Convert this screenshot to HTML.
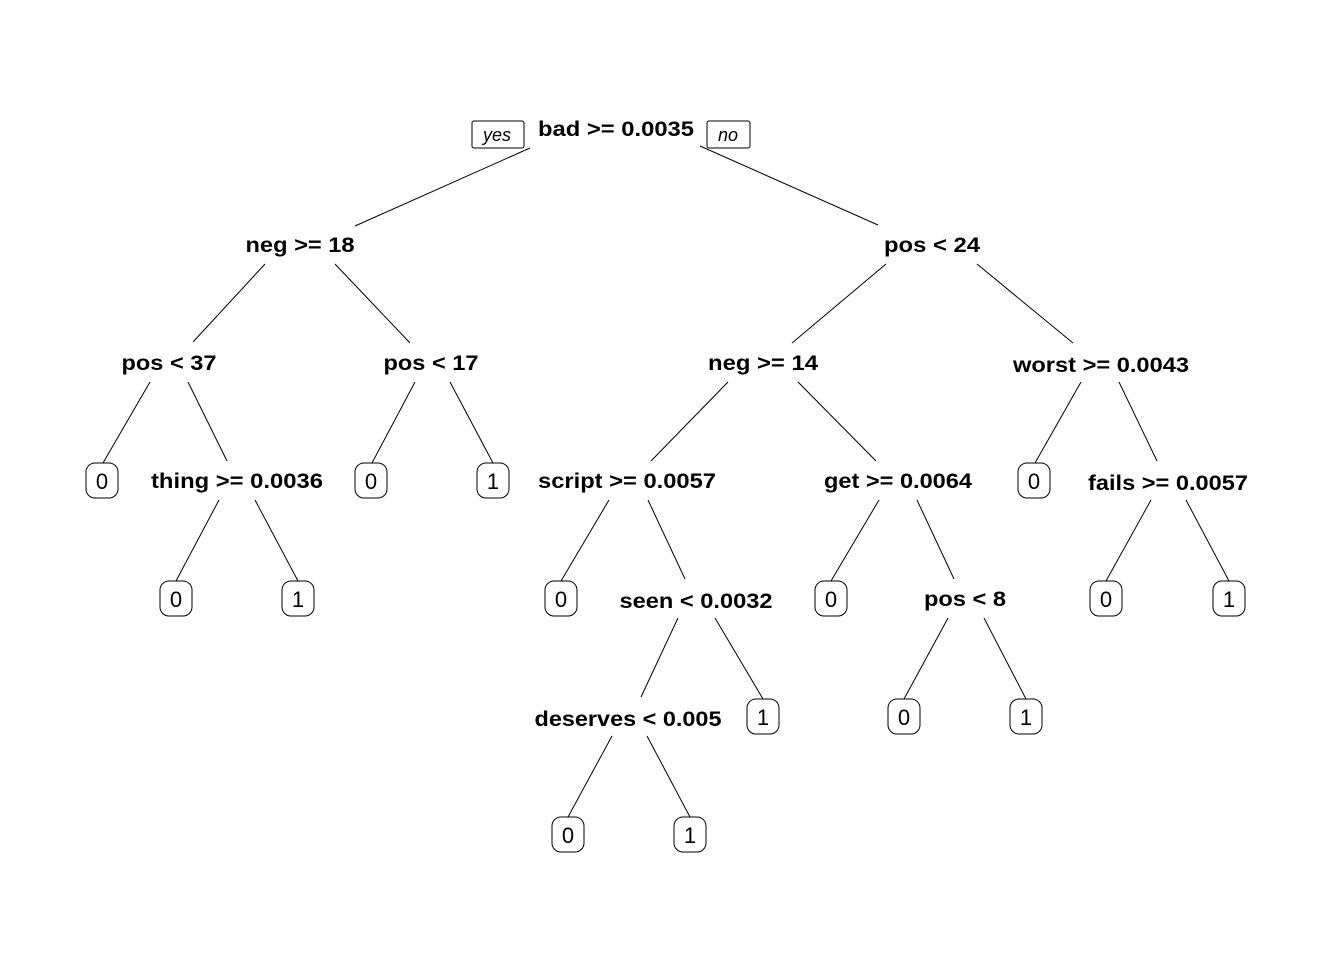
<!DOCTYPE html>
<html><head><meta charset="utf-8"><style>
html,body{margin:0;padding:0;background:#fff;}
svg{display:block;}
.s{font-family:"Liberation Sans",Arial,sans-serif;font-weight:bold;font-size:21px;text-anchor:middle;fill:#000;}
.l{font-family:"Liberation Sans",Arial,sans-serif;font-size:22px;text-anchor:middle;fill:#000;}
.yn{font-family:"Liberation Sans",Arial,sans-serif;font-style:italic;font-size:18px;text-anchor:middle;fill:#000;}
line{stroke:#000;stroke-width:1;}
rect{fill:#fff;stroke:#000;stroke-width:1;}
</style></head><body>
<svg width="1344" height="960" viewBox="0 0 1344 960" xmlns="http://www.w3.org/2000/svg">
<g>
<line x1="530" y1="148" x2="355" y2="226"/><line x1="700" y1="146" x2="878" y2="225"/>
<line x1="265" y1="264" x2="193" y2="342"/><line x1="335" y1="264" x2="410" y2="343"/>
<line x1="886" y1="264" x2="792" y2="343"/><line x1="977" y1="264" x2="1073" y2="343"/>
<line x1="150" y1="382" x2="103" y2="463"/><line x1="188" y1="382" x2="227" y2="461"/>
<line x1="415" y1="382" x2="372" y2="463"/><line x1="450" y1="382" x2="493" y2="463"/>
<line x1="728" y1="382" x2="651" y2="461"/><line x1="798" y1="382" x2="876" y2="461"/>
<line x1="1081" y1="382" x2="1035" y2="463"/><line x1="1119" y1="382" x2="1157" y2="461"/>
<line x1="219" y1="500" x2="176" y2="581"/><line x1="255" y1="500" x2="298" y2="581"/>
<line x1="609" y1="500" x2="561" y2="581"/><line x1="648" y1="500" x2="685" y2="579"/>
<line x1="879" y1="500" x2="831" y2="581"/><line x1="917" y1="500" x2="954" y2="579"/>
<line x1="1151" y1="500" x2="1106" y2="581"/><line x1="1186" y1="500" x2="1229" y2="581"/>
<line x1="678" y1="618" x2="641" y2="697"/><line x1="715" y1="618" x2="763" y2="699"/>
<line x1="948" y1="618" x2="904" y2="699"/><line x1="984" y1="618" x2="1026" y2="699"/>
<line x1="612" y1="736" x2="568" y2="817"/><line x1="647" y1="736" x2="690" y2="817"/>
</g>
<rect x="472" y="121" width="52" height="27" rx="2"/><text class="yn" x="497" y="141">yes</text>
<rect x="707" y="121" width="43" height="27" rx="2"/><text class="yn" x="728" y="141">no</text>
<text class="s" x="616" y="136" textLength="156" lengthAdjust="spacingAndGlyphs">bad &gt;= 0.0035</text>
<text class="s" x="300" y="252" textLength="109" lengthAdjust="spacingAndGlyphs">neg &gt;= 18</text>
<text class="s" x="932" y="252" textLength="96" lengthAdjust="spacingAndGlyphs">pos &lt; 24</text>
<text class="s" x="169" y="370" textLength="95" lengthAdjust="spacingAndGlyphs">pos &lt; 37</text>
<text class="s" x="431" y="370" textLength="95" lengthAdjust="spacingAndGlyphs">pos &lt; 17</text>
<text class="s" x="763" y="370" textLength="110" lengthAdjust="spacingAndGlyphs">neg &gt;= 14</text>
<text class="s" x="1101" y="372" textLength="176" lengthAdjust="spacingAndGlyphs">worst &gt;= 0.0043</text>
<text class="s" x="237" y="488" textLength="172" lengthAdjust="spacingAndGlyphs">thing &gt;= 0.0036</text>
<text class="s" x="627" y="488" textLength="178" lengthAdjust="spacingAndGlyphs">script &gt;= 0.0057</text>
<text class="s" x="898" y="488" textLength="148" lengthAdjust="spacingAndGlyphs">get &gt;= 0.0064</text>
<text class="s" x="1168" y="490" textLength="160" lengthAdjust="spacingAndGlyphs">fails &gt;= 0.0057</text>
<text class="s" x="696" y="608" textLength="153" lengthAdjust="spacingAndGlyphs">seen &lt; 0.0032</text>
<text class="s" x="965" y="606" textLength="82" lengthAdjust="spacingAndGlyphs">pos &lt; 8</text>
<text class="s" x="628" y="726" textLength="187" lengthAdjust="spacingAndGlyphs">deserves &lt; 0.005</text>
<g>
<rect x="86" y="463" width="32" height="35" rx="9"/><text class="l" x="102" y="489">0</text>
<rect x="355" y="463" width="32" height="35" rx="9"/><text class="l" x="371" y="489">0</text>
<rect x="477" y="463" width="32" height="35" rx="9"/><text class="l" x="493" y="489">1</text>
<rect x="1018" y="463" width="32" height="35" rx="9"/><text class="l" x="1034" y="489">0</text>
<rect x="160" y="581" width="32" height="35" rx="9"/><text class="l" x="176" y="607">0</text>
<rect x="282" y="581" width="32" height="35" rx="9"/><text class="l" x="298" y="607">1</text>
<rect x="545" y="581" width="32" height="35" rx="9"/><text class="l" x="561" y="607">0</text>
<rect x="815" y="581" width="32" height="35" rx="9"/><text class="l" x="831" y="607">0</text>
<rect x="1090" y="581" width="32" height="35" rx="9"/><text class="l" x="1106" y="607">0</text>
<rect x="1213" y="581" width="32" height="35" rx="9"/><text class="l" x="1229" y="607">1</text>
<rect x="747" y="699" width="32" height="35" rx="9"/><text class="l" x="763" y="725">1</text>
<rect x="888" y="699" width="32" height="35" rx="9"/><text class="l" x="904" y="725">0</text>
<rect x="1010" y="699" width="32" height="35" rx="9"/><text class="l" x="1026" y="725">1</text>
<rect x="552" y="817" width="32" height="35" rx="9"/><text class="l" x="568" y="843">0</text>
<rect x="674" y="817" width="32" height="35" rx="9"/><text class="l" x="690" y="843">1</text>
</g>
</svg>
</body></html>
